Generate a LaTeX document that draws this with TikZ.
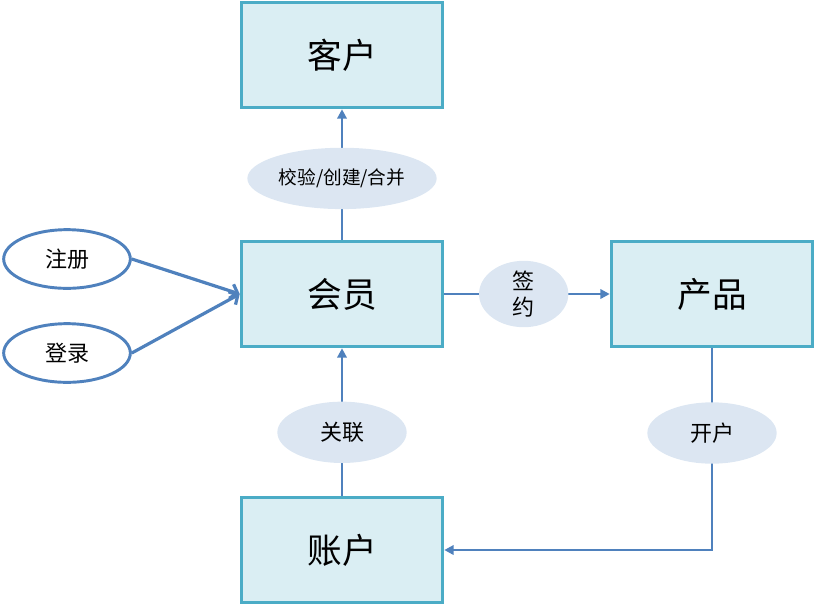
\documentclass[tikz,border=0pt]{standalone}
\usepackage{fontspec}
\usepackage{tikz}
\usetikzlibrary{arrows.meta,positioning,shapes.geometric}
\newfontfamily\cjk{Noto Sans CJK SC}
\definecolor{boxteal}{RGB}{75,172,198}
\definecolor{boxfill}{RGB}{218,238,243}
\definecolor{linkblue}{RGB}{79,129,189}
\definecolor{tagfill}{RGB}{220,230,242}

\begin{document}
\begin{tikzpicture}[x=0.75pt,y=-0.75pt,
  entity/.style={draw=boxteal, fill=boxfill, line width=2.4pt, minimum width=151pt,
    minimum height=79pt, font=\cjk\fontsize{26}{30}\selectfont},
  action/.style={ellipse, draw=linkblue, fill=white, line width=2.2pt, minimum width=95pt,
    minimum height=44pt, inner sep=0pt, font=\cjk\fontsize{16.5}{19}\selectfont},
  tag/.style={ellipse, fill=tagfill, inner sep=0pt, minimum height=46pt,
    font=\cjk\fontsize{16.5}{20}\selectfont},
  flow/.style={draw=linkblue, line width=2pt, -{Triangle[length=7pt,width=7pt]}},
  entry/.style={draw=linkblue, line width=2.4pt, -{Straight Barb[length=5pt,width=11pt]}}]
\useasboundingbox (0,0) rectangle (816,608);
% entities
\node[entity] (customer) at (342,55) {客户};
\node[entity] (member) at (342,294) {会员};
\node[entity] (product) at (712,294) {产品};
\node[entity] (account) at (342,550) {账户};
% entry points
\node[action] (signup) at (67,259) {注册};
\node[action] (login) at (67,353) {登录};
\draw[entry] (signup.east) -- (member.west);
\draw[entry] (login.east) -- (member.west);
% relations
\draw[flow] (member) -- node[tag, pos=0.47, minimum width=142pt, font=\cjk\fontsize{14}{17}\selectfont] {校验/创建/合并} (customer);
\draw[flow] (member) -- node[tag, pos=0.48, minimum width=67pt, align=center] {签\\约} (product);
\draw[flow] (account) -- node[tag, pos=0.43, minimum width=97pt] {关联} (member);
\draw[flow] (product) |- node[tag, pos=0.21, minimum width=97pt] {开户} (account);
\end{tikzpicture}
\end{document}
